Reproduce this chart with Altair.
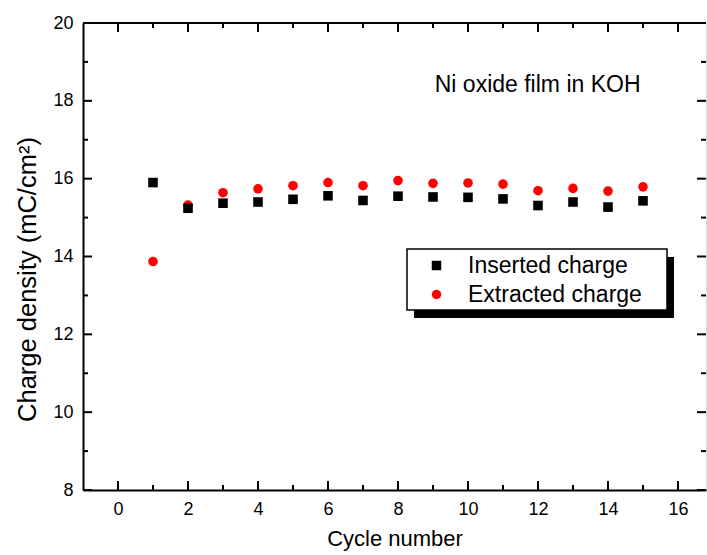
import altair as alt
import pandas as pd

# ---- data ----
cycles = list(range(1, 16))
inserted = [15.90, 15.24, 15.37, 15.40, 15.47, 15.56, 15.44, 15.55, 15.53, 15.52, 15.48, 15.31, 15.40, 15.27, 15.43]
extracted = [13.87, 15.32, 15.64, 15.74, 15.82, 15.90, 15.82, 15.95, 15.88, 15.89, 15.86, 15.69, 15.75, 15.68, 15.79]
series_names = ["Inserted charge", "Extracted charge"]
series_colors = ["#000000", "#ff0000"]
series_shapes = ["square", "circle"]

x_major = [0, 2, 4, 6, 8, 10, 12, 14, 16]
x_minor = [1, 3, 5, 7, 9, 11, 13, 15]
y_major = [8, 10, 12, 14, 16, 18, 20]
y_minor = [9, 11, 13, 15, 17, 19]

note_text = ["Ni oxide film in KOH"]
note_x = [9.05]
note_y = [18.23]

FONT = "Liberation Sans"
W, H = 623, 467
MAJ, MIN = 9, 5

rows = []
for c, a, b in zip(cycles, inserted, extracted):
    rows.append({"cycle": c, "charge": a, "series": series_names[0]})
    rows.append({"cycle": c, "charge": b, "series": series_names[1]})
df = pd.DataFrame(rows)

xscale = alt.Scale(domain=[-1, 16.8], nice=False, zero=False)
yscale = alt.Scale(domain=[8, 20], nice=False, zero=False)

xaxis = alt.Axis(values=x_major, ticks=False, grid=False, domain=True, domainColor="black",
                 domainWidth=2, labelFont=FONT, labelFontSize=18, labelColor="black",
                 labelPadding=10, title="Cycle number", titleFont=FONT, titleFontSize=22,
                 titleFontWeight="normal", titleColor="black", titlePadding=10, format="d")
yaxis = alt.Axis(values=y_major, ticks=False, grid=False, domain=True, domainColor="black",
                 domainWidth=2, labelFont=FONT, labelFontSize=18, labelColor="black",
                 labelPadding=10, title="Charge density (mC/cm²)", titleFont=FONT,
                 titleFontSize=25.5, titleFontWeight="normal", titleColor="black",
                 titlePadding=12, titleY=256, format="d")


def X(field="cycle"):
    return alt.X(f"{field}:Q", scale=xscale, axis=xaxis)


def Y(field="charge"):
    return alt.Y(f"{field}:Q", scale=yscale, axis=yaxis)


points = alt.Chart(df).mark_point(filled=True, opacity=1, size=92).encode(
    x=X(), y=Y(),
    color=alt.Color("series:N", scale=alt.Scale(domain=series_names, range=series_colors),
                    legend=alt.Legend(title=None, orient="none", legendX=342, legendY=231,
                                      labelFont=FONT, labelFontSize=23, labelColor="black",
                                      labelLimit=400,
                                      symbolSize=90, symbolOpacity=1, labelOffset=20,
                                      rowPadding=5, padding=0, symbolStrokeWidth=0)),
    shape=alt.Shape("series:N", scale=alt.Scale(domain=series_names, range=series_shapes)),
    order=alt.Order("series:N", sort="ascending"),
)

# legend box and its shadow (decoration)
shadow = alt.Chart(pd.DataFrame({"cycle": [0]})).mark_rect(color="black").encode(
    x=alt.value(331), x2=alt.value(591), y=alt.value(234), y2=alt.value(295))
box = alt.Chart(pd.DataFrame({"cycle": [0]})).mark_rect(fill="white", stroke="black", strokeWidth=1.5).encode(
    x=alt.value(324), x2=alt.value(584), y=alt.value(226), y2=alt.value(287))

# frame top line
top_line = alt.Chart(pd.DataFrame({"cycle": [0]})).mark_rule(color="black", strokeWidth=2).encode(
    x=alt.value(0), x2=alt.value(W), y=alt.value(0))

xmaj = pd.DataFrame({"cycle": x_major})
xmin = pd.DataFrame({"cycle": x_minor})
ymaj = pd.DataFrame({"charge": y_major})
ymin = pd.DataFrame({"charge": y_minor})

tick_layers = []
for d, L in ((xmaj, MAJ), (xmin, MIN)):
    tick_layers.append(alt.Chart(d).mark_rule(color="black", strokeWidth=2).encode(
        x=X(), y=alt.value(H), y2=alt.value(H - L)))
    tick_layers.append(alt.Chart(d).mark_rule(color="black", strokeWidth=2).encode(
        x=X(), y=alt.value(0), y2=alt.value(L)))
for d, L in ((ymaj, MAJ), (ymin, MIN)):
    tick_layers.append(alt.Chart(d).mark_rule(color="black", strokeWidth=2).encode(
        y=Y(), x=alt.value(0), x2=alt.value(L)))
    tick_layers.append(alt.Chart(d).mark_rule(color="black", strokeWidth=2).encode(
        y=Y(), x=alt.value(W), x2=alt.value(W - L)))

note = alt.Chart(pd.DataFrame({"cycle": note_x, "charge": note_y, "t": note_text})).mark_text(
    align="left", baseline="alphabetic", font=FONT, fontSize=23, color="black").encode(
    x=X(), y=Y(), text="t:N")

chart = alt.layer(shadow, box, top_line, *tick_layers, note, points).properties(
    width=W, height=H,
    padding={"left": 83, "top": 23, "right": 1, "bottom": 65},
    autosize=alt.AutoSizeParams(type="none"),
).configure_view(stroke=None).configure(background="white")

chart.save("out.html", embed_options={"renderer": "svg", "actions": False})
